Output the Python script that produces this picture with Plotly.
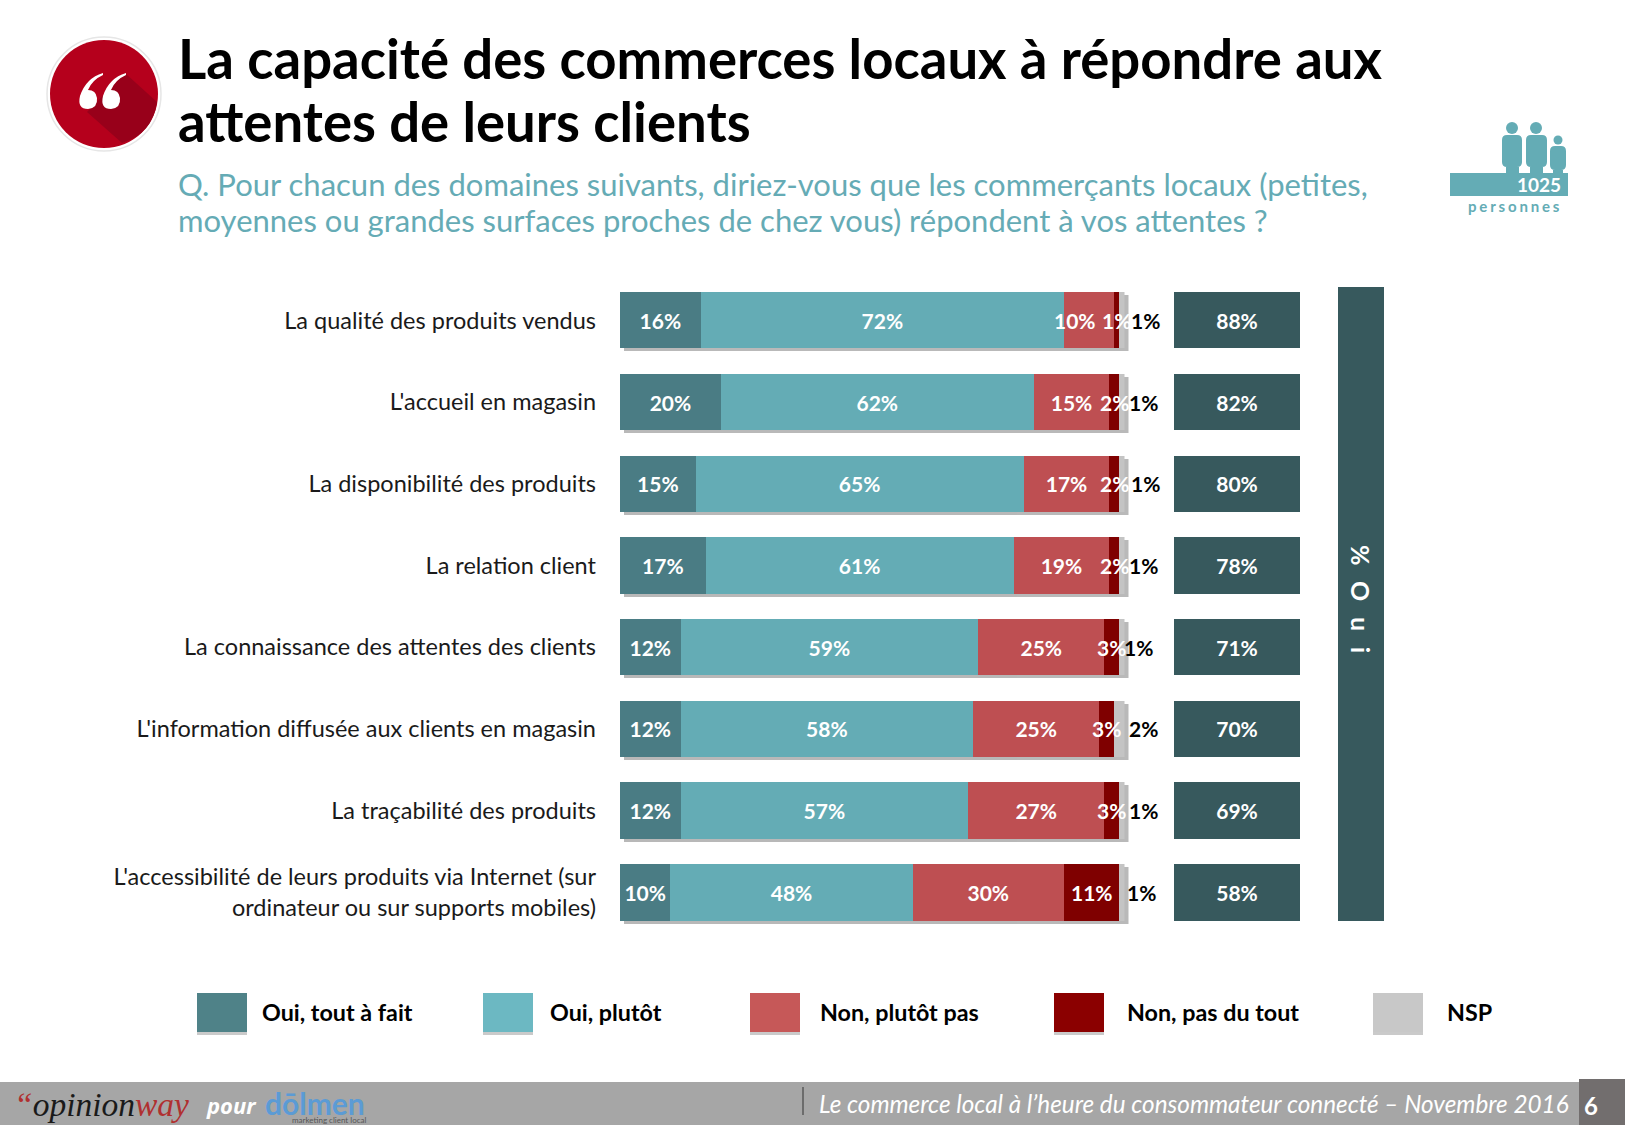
import re
import plotly.graph_objects as go

W = 1625
H = 1125
FONT = 'Lato'

# DATA
categories = ['La qualité des produits vendus',
              "L'accueil en magasin",
              'La disponibilité des produits',
              'La relation client',
              'La connaissance des attentes des clients',
              "L'information diffusée aux clients en magasin",
              'La traçabilité des produits',
              "L'accessibilité de leurs produits via Internet (sur<br>ordinateur ou sur supports mobiles)"]
oui_tout = [16, 20, 15, 17, 12, 12, 12, 10]
oui_plutot = [72, 62, 65, 61, 59, 58, 57, 48]
non_plutot = [10, 15, 17, 19, 25, 25, 27, 30]
non_pas = [1, 2, 2, 2, 3, 3, 3, 11]
nsp = [1, 1, 1, 1, 1, 2, 1, 1]
total_oui = [88, 82, 80, 78, 71, 70, 69, 58]
legend_names = ['Oui, tout à fait', 'Oui, plutôt', 'Non, plutôt pas', 'Non, pas du tout', 'NSP']

# COLOURS
c_tout = '#4A7C84'
c_plutot = '#64ACB5'
c_non = '#BE4F52'
c_pas = '#7F0000'
c_nsp = '#C4C4C4'
c_dark = '#37595D'
legend_colors = ['#4F8288', '#6CB8C2', '#C65858', '#8B0000', '#C8C8C8']
legend_x = [197, 483, 750, 1054, 1373]
legend_label_x = [261, 549, 819, 1126, 1446]
# small nudges of the NSP labels, as in the slide
nsp_shift = [5, 3, 5, 3, -2, 3, 3, 1]


def px(x):
    return x / W


def py(y):
    return 1 - y / H


def path(s):
    # path written in page pixels -> paper coordinates
    return re.sub(r'(-?[\d.]+),(-?[\d.]+)',
                  lambda m: '{:.5f},{:.5f}'.format(px(float(m.group(1))), py(float(m.group(2)))), s)


shapes = []
annotations = []


def rect(x0, y0, x1, y1, color, opacity=1):
    shapes.append(dict(type='rect', xref='paper', yref='paper', x0=px(x0), x1=px(x1), y0=py(y0), y1=py(y1),
                       fillcolor=color, opacity=opacity, line_width=0))


def circle(cx, cy, r, color, line=None):
    shapes.append(dict(type='circle', xref='paper', yref='paper', x0=px(cx - r), x1=px(cx + r), y0=py(cy - r), y1=py(cy + r),
                       fillcolor=color, line=dict(width=1.5 if line else 0, color=line or color)))


def blob(s, color):
    shapes.append(dict(type='path', xref='paper', yref='paper', path=path(s), fillcolor=color, line_width=0))


def note(x, y, text, size, color, weight='normal', anchor='left', style='normal', family=FONT, angle=0):
    annotations.append(dict(xref='paper', yref='paper', x=px(x), y=py(y), text=text, showarrow=False, textangle=angle,
                            xanchor=anchor, yanchor='middle', borderpad=0,
                            font=dict(family=family, size=size, color=color, weight=weight, style=style)))


def person(x0, x1, y0, y1, leg0, leg1, y2, cx, cy, r, color):
    c = 5
    blob('M{a},{b} Q{x0},{y0} {x0},{d} L{x0},{e} Q{x0},{y1} {a},{y1} L{leg0},{y1} L{leg0},{y2} L{leg1},{y2} L{leg1},{y1} '
         'L{f},{y1} Q{x1},{y1} {x1},{e} L{x1},{d} Q{x1},{y0} {f},{y0} Z'.format(
             a=x0 + c, b=y0, d=y0 + c, e=y1 - c, f=x1 - c, x0=x0, x1=x1, y0=y0, y1=y1, leg0=leg0, leg1=leg1, y2=y2), color)
    circle(cx, cy, r, color)


# QUOTE BADGE
circle(104, 94, 57, '#FFFFFF', line='#E6E6E6')
circle(104, 94, 54, '#B5001C')
blob('M125,73 L157,102 Q152.6,133.8 122,143 L87,112 Z', '#98001A')
blob('M103,73 Q86,78 80,96 Q77,109 88,109 Q98,108 97,98 Q96,90 88,90 Q92,80 103,75 Z', '#FFFFFF')
blob('M126,73 Q109,78 103,96 Q100,109 111,109 Q121,108 120,98 Q119,90 111,90 Q115,80 126,75 Z', '#FFFFFF')

# TITLE
note(177, 58, 'La capacité des commerces locaux à répondre aux', 54.5, '#000000', weight='bold')
note(177, 121, 'attentes de leurs clients', 54.5, '#000000', weight='bold')
note(177, 184, 'Q. Pour chacun des domaines suivants, diriez-vous que les commerçants locaux (petites,', 31, '#65ABB5')
note(177, 220, 'moyennes ou grandes surfaces proches de chez vous) répondent à vos attentes ?', 31, '#65ABB5')

# 1025 PERSONNES ICON
person(1502, 1522, 135, 167, 1506, 1519, 173, 1512, 128, 6, c_plutot)
person(1526, 1547, 135, 167, 1530, 1543, 173, 1536, 128, 6, c_plutot)
person(1550, 1566, 146, 170, 1553, 1563, 173, 1558, 140, 4.5, c_plutot)
rect(1450, 173, 1568, 196, c_plutot)
note(1562, 185, '1025', 19, '#FFFFFF', weight='bold', anchor='right')
note(1514, 206, '\u2009\u200a'.join('personnes'), 15, c_plutot, weight='bold', anchor='center')

# % OUI BAND
rect(1338, 287, 1384, 921, c_dark)
note(1361, 599, '\u2002\u2009'.join(['%', 'O', 'u', 'i']), 25, '#FFFFFF', weight='bold', anchor='center', angle=90)

# LEGEND
for name, color, x, lx in zip(legend_names, legend_colors, legend_x, legend_label_x):
    rect(x, 996, x + 50, 1035, '#8A8A8A', opacity=0.45)
    rect(x, 993, x + 50, 1032, color)
    note(lx, 1012, name, 23.3, '#000000', weight='bold')

# FOOTER
rect(0, 1082, W, H, '#A6A6A6')
rect(1579, 1079, W, H, '#726E6E')
rect(802.5, 1087, 803.5, 1115, '#333333')
note(13, 1104, '<span style="color:#B03030">“</span>opinion<span style="color:#B03030">way</span>', 33.5, '#1A1A1A',
     style='italic', family='Liberation Serif')
note(205, 1105, 'pour', 22, '#FFFFFF', weight='bold', style='italic', family='Open Sans')
note(264, 1103, 'dōlmen', 30, '#5B9BD5', weight='bold')
note(367, 1120, 'marketing client local', 8, '#555555', anchor='right')
note(818, 1103, 'Le commerce local à l’heure du consommateur connecté – Novembre 2016', 24.3, '#FFFFFF', style='italic')
note(1591, 1105, '6', 24, '#FFFFFF', weight='bold', anchor='center')

# NSP LABELS
for cat, v, shift in zip(categories, nsp, nsp_shift):
    annotations.append(dict(xref='x2', yref='y2', x=100, y=cat, text='{}%'.format(v), showarrow=False, xanchor='left',
                            xshift=shift, borderpad=0, font=dict(family=FONT, size=21, color='#000000', weight='bold')))

# LABELS THAT HAVE TO STAY ABOVE THE NEXT BAR OF THE STACK
bar_label = dict(family=FONT, size=21, color='#FFFFFF', weight='bold')
annotations.append(dict(xref='x2', yref='y2', x=oui_tout[0] + oui_plutot[0] + non_plutot[0] / 2, y=categories[0],
                        xshift=-14, text='{}%'.format(non_plutot[0]), showarrow=False, borderpad=0, font=bar_label))
for i, cat in enumerate(categories):
    start = oui_tout[i] + oui_plutot[i] + non_plutot[i]
    annotations.append(dict(xref='x2', yref='y2', x=start + non_pas[i] / 2, y=cat, text='{}%'.format(non_pas[i]),
                            showarrow=False, borderpad=0, font=bar_label))

fig = go.Figure()

# SHADOW (same stack, drawn underneath on slightly shifted axes)
totals = [a + b + c + d + e for a, b, c, d, e in zip(oui_tout, oui_plutot, non_plutot, non_pas, nsp)]
fig.add_trace(go.Bar(x=totals, y=categories, orientation='h', xaxis='x', yaxis='y',
                     marker=dict(color='#8A8A8A', line_width=0), opacity=0.6, hoverinfo='skip'))

# STACKED BARS
series = [('Oui, tout à fait', oui_tout, c_tout), ('Oui, plutôt', oui_plutot, c_plutot),
          ('Non, plutôt pas', non_plutot, c_non)]
for name, values, color in series:
    labels = ['{}%'.format(v) for v in values]
    if name == 'Non, plutôt pas':
        # first label is pushed left in the slide, it is an annotation
        labels[0] = ''
    fig.add_trace(go.Bar(name=name, x=values, y=categories, orientation='h', xaxis='x2', yaxis='y2',
                         marker=dict(color=color, line_width=0), text=labels, textposition='inside',
                         insidetextanchor='middle', textangle=0, constraintext='none', textfont=bar_label))
fig.add_trace(go.Bar(name='Non, pas du tout', x=non_pas, y=categories, orientation='h', xaxis='x2', yaxis='y2',
                     marker=dict(color=c_pas, line_width=0)))
fig.add_trace(go.Bar(name='NSP', x=nsp, y=categories, orientation='h', xaxis='x2', yaxis='y2',
                     marker=dict(color=c_nsp, line_width=0)))

# TOTAL COLUMN
fig.add_trace(go.Bar(name='% Oui', x=[1] * len(categories), y=categories, orientation='h', xaxis='x3', yaxis='y2',
                     marker=dict(color=c_dark, line_width=0), text=['{}%'.format(v) for v in total_oui],
                     textposition='inside', insidetextanchor='middle', textangle=0, constraintext='none',
                     textfont=bar_label))

bars_x0, bars_x1 = 620, 1124.5
bars_top, bars_bottom = 279.4, 933.3
shadow_dx, shadow_dy = 4, 3
hidden = dict(visible=False, fixedrange=True)

fig.update_layout(
    width=W, height=H,
    margin=dict(l=0, r=0, t=0, b=0),
    # transparent plot area, a white one hides the shadow subplot
    paper_bgcolor='white', plot_bgcolor='rgba(0,0,0,0)',
    barmode='stack', bargap=0.31, showlegend=False,
    font=dict(family=FONT),
    shapes=shapes, annotations=annotations,
    xaxis=dict(domain=[px(bars_x0 + shadow_dx), px(bars_x1 + shadow_dx)], range=[0, 100], anchor='y', **hidden),
    yaxis=dict(domain=[py(bars_bottom + shadow_dy), py(bars_top + shadow_dy)], autorange='reversed', type='category',
               anchor='x', categoryorder='array', categoryarray=categories, **hidden),
    xaxis2=dict(domain=[px(bars_x0), px(bars_x1)], range=[0, 100], anchor='y2', **hidden),
    yaxis2=dict(domain=[py(bars_bottom), py(bars_top)], autorange='reversed', type='category', anchor='x2',
                showline=False, showgrid=False, zeroline=False, ticks='', ticklabelstandoff=23, fixedrange=True,
                tickfont=dict(family=FONT, size=23.5, color='#1A1A1A')),
    xaxis3=dict(domain=[px(1174), px(1300)], range=[0, 1], anchor='y2', **hidden),
)

fig.write_html('out.html', config={'displayModeBar': False},
               post_script="document.body.style.margin='0';document.body.style.overflow='hidden';")
